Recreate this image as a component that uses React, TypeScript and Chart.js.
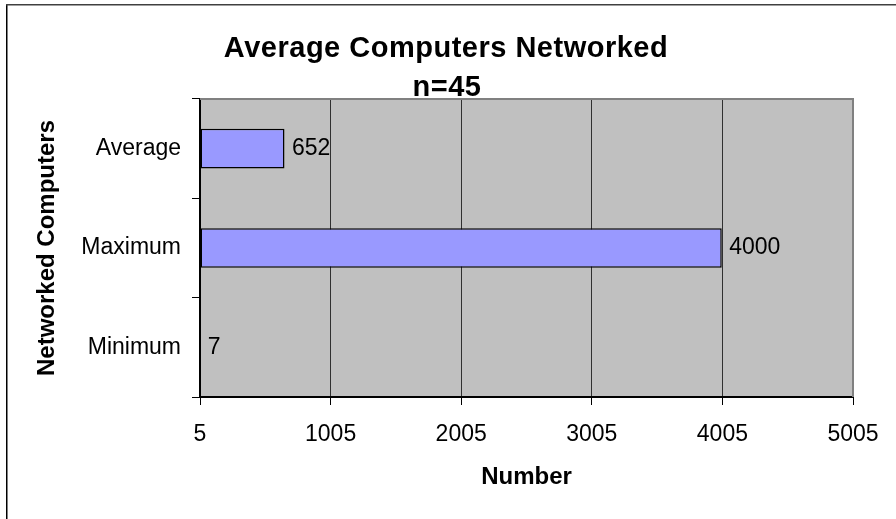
import { useEffect, useRef } from 'react';
import { Chart, registerables } from 'chart.js';

Chart.register(...registerables);

const categories = ['Average', 'Maximum', 'Minimum'];
const values = [652, 4000, 7];
const xTicks = [5, 1005, 2005, 3005, 4005, 5005];
const titleLines = ['Average Computers Networked', 'n=45'];
const xAxisTitle = 'Number';
const yAxisTitle = 'Networked Computers';

const FONT = "'Liberation Sans', Arial, Helvetica, sans-serif";

const framePlugin = {
  id: 'frame',
  beforeDraw(chart: any) {
    const { ctx, chartArea, width, height } = chart;
    ctx.save();
    ctx.fillStyle = '#ffffff';
    ctx.fillRect(0, 0, width, height);
    ctx.fillStyle = '#C0C0C0';
    ctx.fillRect(chartArea.left, chartArea.top, chartArea.right - chartArea.left, chartArea.bottom - chartArea.top);
    ctx.strokeStyle = '#000000';
    ctx.lineWidth = 1.5;
    ctx.beginPath();
    ctx.moveTo(6.75, height);
    ctx.lineTo(6.75, 4.75);
    ctx.stroke();
    ctx.strokeStyle = '#404040';
    ctx.beginPath();
    ctx.moveTo(6, 4.75);
    ctx.lineTo(width, 4.75);
    ctx.stroke();
    // chart title
    ctx.fillStyle = '#000000';
    ctx.font = `bold 29px ${FONT}`;
    ctx.textAlign = 'center';
    ctx.textBaseline = 'alphabetic';
    try {
      (ctx as any).letterSpacing = '0.5px';
    } catch (e) {}
    ctx.fillText(titleLines[0], 446, 57);
    ctx.fillText(titleLines[1], 447, 95.5);
    ctx.restore();
  },
  beforeDatasetsDraw(chart: any) {
    const { ctx, chartArea } = chart;
    ctx.save();
    ctx.strokeStyle = '#808080';
    ctx.lineWidth = 2;
    ctx.beginPath();
    ctx.moveTo(chartArea.left, chartArea.top);
    ctx.lineTo(chartArea.right, chartArea.top);
    ctx.lineTo(chartArea.right, chartArea.bottom);
    ctx.stroke();
    ctx.restore();
  },
};

const labelPlugin = {
  id: 'barLabels',
  afterDatasetsDraw(chart: any) {
    const { ctx } = chart;
    const meta = chart.getDatasetMeta(0);
    ctx.save();
    ctx.font = `23px ${FONT}`;
    ctx.fillStyle = '#000000';
    ctx.textAlign = 'left';
    ctx.textBaseline = 'middle';
    meta.data.forEach((el: any, i: number) => {
      ctx.fillText(String(values[i]), el.x + 7.5, el.y);
    });
    ctx.restore();
  },
};

export default function App() {
  const ref = useRef<HTMLCanvasElement>(null);
  useEffect(() => {
    document.body.style.margin = '0';
    const chart = new Chart(ref.current as HTMLCanvasElement, {
      type: 'bar',
      data: {
        labels: categories,
        datasets: [
          {
            data: values,
            base: 5,
            backgroundColor: '#9999FF',
            borderColor: '#000000',
            borderWidth: 1.5,
            borderSkipped: false,
            categoryPercentage: 1,
            barPercentage: 0.4,
          } as any,
        ],
      },
      options: {
        indexAxis: 'y',
        responsive: false,
        animation: false,
        devicePixelRatio: 1,
        layout: { padding: { top: 99, right: 43, bottom: 0, left: 0 } },
        plugins: {
          legend: { display: false },
          tooltip: { enabled: false },
          title: { display: false },
        },
        scales: {
          x: {
            type: 'linear',
            min: 5,
            max: 5005,
            afterBuildTicks: (scale: any) => {
              scale.ticks = xTicks.map((v) => ({ value: v }));
            },
            afterFit: (scale: any) => {
              scale.height = 519 - 397;
            },
            grid: {
              color: (c: any) => (c.index === xTicks.length - 1 ? '#808080' : '#303030'),
              lineWidth: 1,
              drawTicks: true,
              tickLength: 8,
              tickColor: '#000000',
            },
            border: { display: true, color: '#000000', width: 2 },
            ticks: {
              color: '#000000',
              font: { family: FONT, size: 23 },
              padding: 16,
              maxRotation: 0,
              autoSkip: false,
              callback: (v: any) => String(v),
            },
            title: {
              display: true,
              text: xAxisTitle,
              color: '#000000',
              font: { family: FONT, size: 24, weight: 'bold' },
              padding: { top: 0, bottom: 27 },
            },
          },
          y: {
            afterFit: (scale: any) => {
              scale.width = 200;
            },
            grid: {
              drawOnChartArea: false,
              drawTicks: true,
              tickLength: 8,
              color: '#000000',
              tickColor: '#000000',
            },
            border: { display: true, color: '#000000', width: 2 },
            ticks: {
              color: '#000000',
              font: { family: FONT, size: 23 },
              padding: 11,
            },
            title: {
              display: true,
              text: yAxisTitle,
              color: '#000000',
              font: { family: FONT, size: 24, weight: 'bold' },
              padding: { top: 32.5, bottom: 0 },
            },
          },
        },
      } as any,
      plugins: [framePlugin, labelPlugin],
    });
    return () => chart.destroy();
  }, []);
  return (
    <div style={{ width: 896, height: 519 }}>
      <canvas ref={ref} width={896} height={519} />
    </div>
  );
}
